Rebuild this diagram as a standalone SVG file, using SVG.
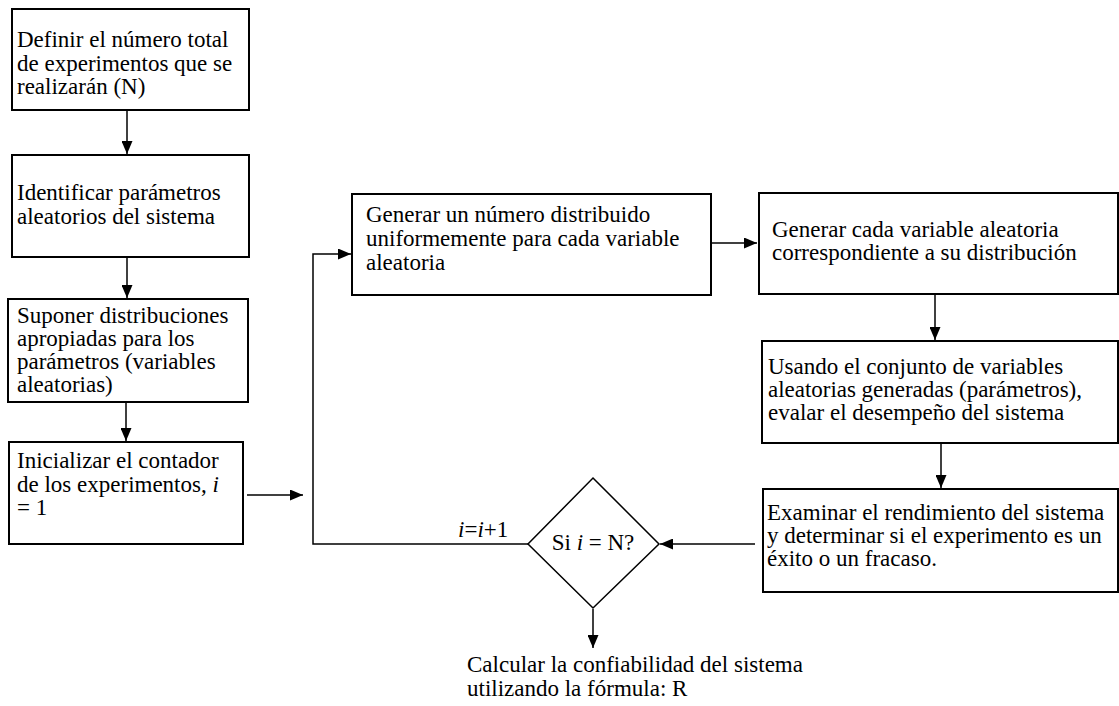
<svg xmlns="http://www.w3.org/2000/svg" width="1119" height="706" viewBox="0 0 1119 706" font-family="Liberation Serif, Times New Roman, serif" font-size="23">
  <style>
    .box { fill: #fff; stroke: #000; stroke-width: 2; }
    .dia { fill: #fff; stroke: #000; stroke-width: 1.5; }
    text { font-family: "Liberation Serif", "Times New Roman", serif; font-size: 23px; fill: #000; }
    .c { fill: none; stroke: #000; stroke-width: 1.5; }
  </style>
  <defs>
    <marker id="arr" markerUnits="userSpaceOnUse" markerWidth="13" markerHeight="11" refX="13" refY="5.5" orient="auto">
      <path d="M0,0 L13,5.5 L0,11 z" fill="#000"/>
    </marker>
  </defs>
  <rect width="1119" height="706" fill="#fff"/>

  <g id="connectors">
    <line class="c" x1="127" y1="111" x2="127" y2="154" marker-end="url(#arr)"/>
    <line class="c" x1="127" y1="258" x2="127" y2="298" marker-end="url(#arr)"/>
    <line class="c" x1="126" y1="403" x2="126" y2="441" marker-end="url(#arr)"/>
    <line class="c" x1="247" y1="495" x2="303" y2="495" marker-end="url(#arr)"/>
    <polyline class="c" points="528,544 313,544 313,254 351,254" marker-end="url(#arr)"/>
    <line class="c" x1="712" y1="243" x2="757" y2="243" marker-end="url(#arr)"/>
    <line class="c" x1="935" y1="295" x2="935" y2="340" marker-end="url(#arr)"/>
    <line class="c" x1="941" y1="444" x2="941" y2="488" marker-end="url(#arr)"/>
    <line class="c" x1="755" y1="544" x2="660" y2="544" marker-end="url(#arr)"/>
    <line class="c" x1="593" y1="609" x2="593" y2="648" marker-end="url(#arr)"/>
  </g>

  <g id="n1">
    <rect class="box" x="12" y="9" width="237" height="101"/>
    <text x="17" y="47">Definir el número total</text>
    <text x="17" y="71">de experimentos que se</text>
    <text x="17" y="94">realizarán (N)</text>
  </g>
  <g id="n2">
    <rect class="box" x="12" y="155" width="237" height="102"/>
    <text x="17" y="200">Identificar parámetros</text>
    <text x="17" y="224">aleatorios del sistema</text>
  </g>
  <g id="n3">
    <rect class="box" x="8" y="299" width="240" height="103"/>
    <text x="17" y="323">Suponer distribuciones</text>
    <text x="17" y="346">apropiadas para los</text>
    <text x="17" y="369">parámetros (variables</text>
    <text x="17" y="392">aleatorias)</text>
  </g>
  <g id="n4">
    <rect class="box" x="9" y="442" width="234" height="102"/>
    <text x="17" y="468">Inicializar el contador</text>
    <text x="17" y="492">de los experimentos, <tspan font-style="italic">i</tspan></text>
    <text x="17" y="515">= 1</text>
  </g>
  <g id="n5">
    <rect class="box" x="352" y="194" width="359" height="101"/>
    <text x="366" y="222">Generar un número distribuido</text>
    <text x="366" y="246">uniformemente para cada variable</text>
    <text x="366" y="270">aleatoria</text>
  </g>
  <g id="n6">
    <rect class="box" x="759" y="193" width="359" height="101"/>
    <text x="772" y="237">Generar cada variable aleatoria</text>
    <text x="772" y="260">correspondiente a su distribución</text>
  </g>
  <g id="n7">
    <rect class="box" x="762" y="341" width="356" height="102"/>
    <text x="768" y="374">Usando el conjunto de variables</text>
    <text x="768" y="397" textLength="314" lengthAdjust="spacing">aleatorias generadas (parámetros),</text>
    <text x="768" y="420">evalar el desempeño del sistema</text>
  </g>
  <g id="n8">
    <rect class="box" x="763" y="489" width="355" height="103"/>
    <text x="767" y="520">Examinar el rendimiento del sistema</text>
    <text x="767" y="543">y determinar si el experimento es un</text>
    <text x="767" y="566">éxito o un fracaso.</text>
  </g>
  <g id="decision">
    <polygon class="dia" points="593,478 659,544 593,608 528,544"/>
    <text x="593" y="550" text-anchor="middle">Si <tspan font-style="italic">i</tspan> = N?</text>
  </g>
  <g id="loop-label">
    <text x="458" y="537"><tspan font-style="italic">i</tspan>=<tspan font-style="italic">i</tspan>+1</text>
  </g>
  <g id="result">
    <text x="467" y="672">Calcular la confiabilidad del sistema</text>
    <text x="467" y="696">utilizando la fórmula: R</text>
  </g>
</svg>
